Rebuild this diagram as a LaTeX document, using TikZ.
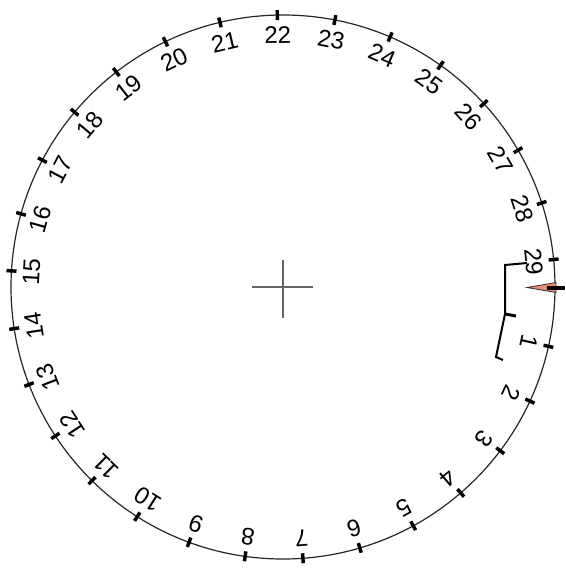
\documentclass[tikz,border=0pt]{standalone}
\usepackage{fontspec}
\setmainfont{Liberation Sans}
\usepackage{tikz}
\usetikzlibrary{arrows.meta,positioning,calc}
\definecolor{dialpink}{RGB}{233,140,112}

\begin{document}
\begin{tikzpicture}[x=0.75pt,y=0.75pt,
  ticmark/.style={line width=2.6pt},
  numlbl/.style={font=\fontsize{18}{20}\selectfont,inner sep=0pt}]
  \useasboundingbox (-283,-281) rectangle (282,287);
  \coordinate (ctr) at (0,0);
  \draw[line width=0.9pt,black!85] (ctr) circle (272);
  % crosshair
  \draw[gray!80!black,line width=1.1pt] (-31,0) -- (30,0) (0,27) -- (0,-31);
  % ticks and numbers
  \foreach \k in {1,...,29}{
    \pgfmathsetmacro{\ang}{-12.2*\k-0.4}
    \draw[ticmark] (\ang:267) -- (\ang:277);
    \node[numlbl,rotate=\ang-90] (n\k) at (\ang:252) {\k};
  }
  % bracket
  \draw[line width=1.5pt] (244,24) -- (222,22) -- (222,-27) -- (213,-70) -- (220,-73);
  \draw[line width=2.2pt] (222,-27) -- (233,-29);
  % pointer
  \filldraw[fill=dialpink,draw=black!80,line width=0.6pt] (244,-0.5) -- (273,4.5) -- (273,-5.5) -- cycle;
  \draw[line width=3pt] (264,-1) -- (282,-1);
\end{tikzpicture}
\end{document}
